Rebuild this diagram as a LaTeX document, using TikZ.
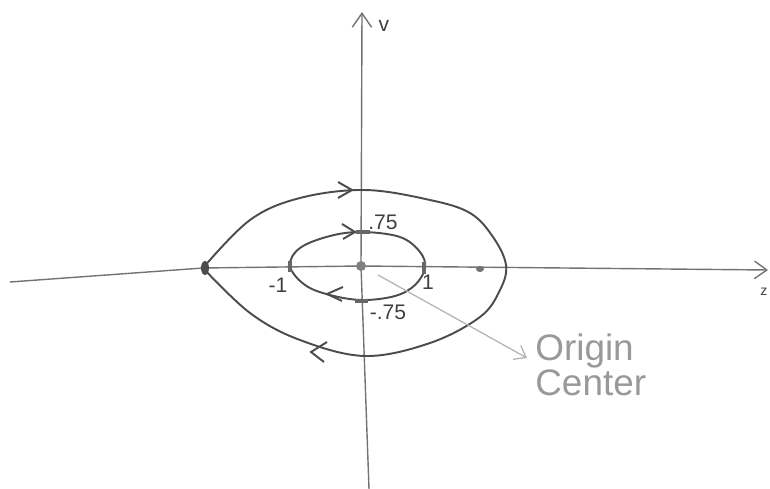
\documentclass[tikz,border=0pt]{standalone}
\usepackage{fontspec}
\setmainfont{Liberation Sans}
\usepackage{tikz}
\usetikzlibrary{arrows.meta}

\begin{document}
\begin{tikzpicture}[
  x=0.02cm, y=-0.02cm,
  font=\fontsize{12}{14}\selectfont,
  axis/.style={draw=black!55, line width=0.8pt},
  orbit/.style={draw=black!70, line width=1.1pt},
  chev/.style={draw=black!70, line width=1.1pt},
  crossmark/.style={draw=black!60, line width=2.2pt},
  lab/.style={text=black!75, inner sep=1pt},
  note/.style={text=black!40, font=\fontsize{21}{18}\selectfont, align=left, inner sep=0pt},
  pointer/.style={draw=black!30, line width=0.7pt, -{Straight Barb[length=6pt, width=9pt]}}
]
\useasboundingbox (0,0) rectangle (770,489);

\coordinate (o) at (361,266);
\coordinate (ytop) at (362,12);
\coordinate (ybot) at (369,489);
\coordinate (xleft) at (10,282);
\coordinate (xbend) at (203,268);
\coordinate (xright) at (768,270);

\draw[axis] (ybot) -- (o);
\draw[axis, -{Straight Barb[length=8pt, width=11pt]}] (o) -- (ytop);
\draw[axis, -{Straight Barb[length=7pt, width=10pt]}] (xleft) -- (xbend) -- (o) -- (xright);
\node[lab] (ylab) at (384,26) {v};
\node[lab, font=\fontsize{8}{9}\selectfont] (xlab) at (764,292) {z};

\draw[orbit] plot[smooth, tension=0.6] coordinates {(203,268) (250,220) (300,198) (365,190) (430,200) (470,213) (493,237) (506,265) (500,290) (480,317) (430,343) (365,356) (300,340) (250,313) (203,268)};
\draw[orbit] plot[smooth cycle, tension=0.6] coordinates {(290,266) (300,248) (330,236) (362,232) (400,237) (420,252) (425,268) (415,285) (395,296) (362,300) (330,295) (305,285)};

\draw[chev] (338,182) -- (352,190) -- (338,198);
\draw[chev] (342,224) -- (355,232) -- (343,239);
\draw[chev] (343,287) -- (327,294) -- (342,301);
\draw[chev] (327,342) -- (311,352) -- (324,362);

\fill[black!50] (o) circle (5);
\fill[black!70] (205,268) ellipse (4 and 7);
\fill[black!55] (480,269) ellipse (4 and 3);
\draw[crossmark] (356,232) -- (370,232);
\draw[crossmark] (355,301) -- (368,301);
\draw[crossmark] (290,261) -- (290,272);
\draw[crossmark] (424,262) -- (424,274);

\node[lab] (top) at (383,222) {.75};
\node[lab] (bot) at (388,312) {-.75};
\node[lab] (left) at (278,285) {-1};
\node[lab] (right) at (428,282) {1};

\coordinate (ptr) at (378,275);
\coordinate (ptrend) at (527,358);
\node[note, anchor=west] (origin) at (535,365) {Origin\\Center};
\draw[pointer] (ptr) -- (ptrend);
\end{tikzpicture}
\end{document}
